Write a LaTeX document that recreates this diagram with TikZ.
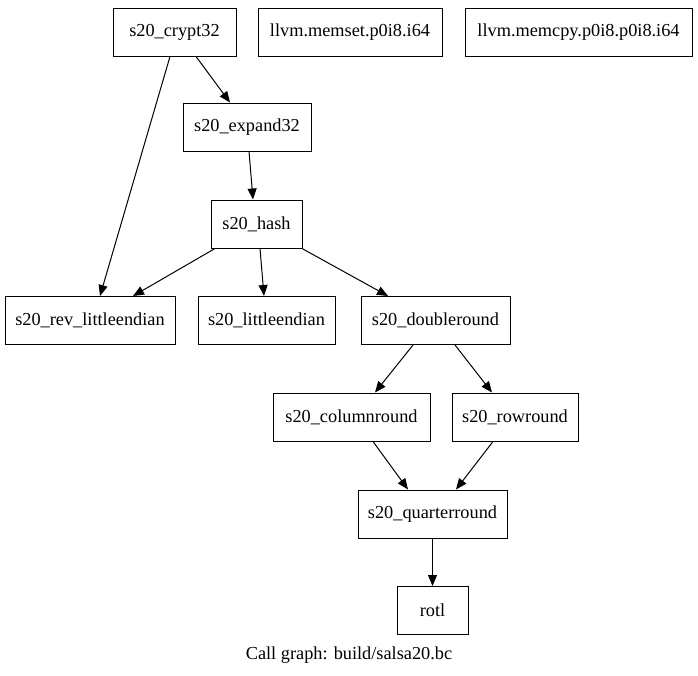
\documentclass[tikz,border=0pt]{standalone}
\usepackage{fontspec}
\setmainfont{Liberation Serif}
\usetikzlibrary{arrows.meta}
\begin{document}
\begin{tikzpicture}[x=1pt,y=-1pt,
  fn/.style={draw,line width=1pt,rectangle,minimum height=48pt,inner sep=0pt,font=\fontsize{18.3}{21}\selectfont},
  arr/.style={line width=1pt,-{Triangle[length=11pt,width=9pt]}}]
\useasboundingbox (0,0) rectangle (698,675);
\node[fn,minimum width=123pt] (crypt) at (174.5,32) {s20\_crypt32};
\node[fn,minimum width=184pt] (memset) at (350,32) {llvm.memset.p0i8.i64};
\node[fn,minimum width=227pt] (memcpy) at (578.5,32) {llvm.memcpy.p0i8.p0i8.i64};
\node[fn,minimum width=128pt] (expand) at (247,127) {s20\_expand32};
\node[fn,minimum width=91pt] (hash) at (256.5,224) {s20\_hash};
\node[fn,minimum width=170pt] (rev) at (90,320.5) {s20\_rev\_littleendian};
\node[fn,minimum width=137pt] (little) at (266.5,320.5) {s20\_littleendian};
\node[fn,minimum width=149pt] (dbl) at (435.5,320.5) {s20\_doubleround};
\node[fn,minimum width=157pt] (col) at (351.5,417) {s20\_columnround};
\node[fn,minimum width=126pt] (row) at (515,417) {s20\_rowround};
\node[fn,minimum width=149pt] (qr) at (432.5,514) {s20\_quarterround};
\node[fn,minimum width=71pt] (rotl) at (432.5,610.5) {rotl};
\node[font=\fontsize{18.3}{21}\selectfont] (cap) at (349,655) {Call graph: build/salsa20.bc};
\draw[arr] ([xshift=-4.5pt]crypt.south) -- ([xshift=10pt]rev.north);
\draw[arr] ([xshift=21.5pt]crypt.south) -- ([xshift=-17pt]expand.north);
\draw[arr] ([xshift=2pt]expand.south) -- ([xshift=-3.5pt]hash.north);
\draw[arr] ([xshift=-41.5pt]hash.south) -- ([xshift=43pt]rev.north);
\draw[arr] ([xshift=3.5pt]hash.south) -- ([xshift=-2.5pt]little.north);
\draw[arr] ([xshift=45.5pt]hash.south) -- ([xshift=-47.5pt]dbl.north);
\draw[arr] ([xshift=-22.5pt]dbl.south) -- ([xshift=23.5pt]col.north);
\draw[arr] ([xshift=19.5pt]dbl.south) -- ([xshift=-23pt]row.north);
\draw[arr] ([xshift=21.5pt]col.south) -- ([xshift=-24.5pt]qr.north);
\draw[arr] ([xshift=-22pt]row.south) -- ([xshift=23.5pt]qr.north);
\draw[arr] (qr.south) -- (rotl.north);
\end{tikzpicture}
\end{document}
